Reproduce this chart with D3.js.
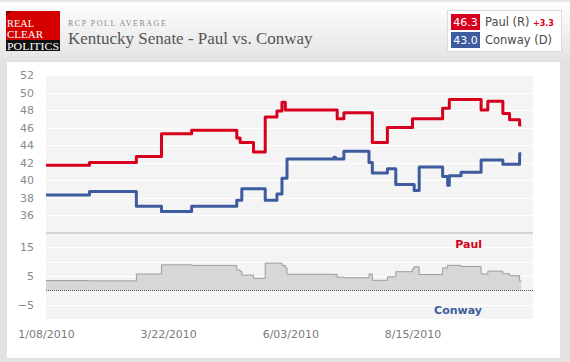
<!DOCTYPE html>
<html>
<head>
<meta charset="utf-8">
<script src="https://cdn.jsdelivr.net/npm/d3@7"></script>
<style>
  body { margin: 0; background: #e2e2e2; }
  svg { display: block; }
</style>
</head>
<body>
<script>
// Dates where either average changes (last one is the end of the series)
let dates = ["2010-01-08","2010-02-03","2010-03-03","2010-03-18","2010-04-05","2010-05-02",
  "2010-05-04","2010-05-05","2010-05-12","2010-05-19","2010-05-26","2010-05-29","2010-05-31",
  "2010-06-01","2010-06-29","2010-06-30","2010-07-01","2010-07-05","2010-07-20","2010-07-22",
  "2010-07-31","2010-08-05","2010-08-15","2010-08-16","2010-08-19","2010-09-02","2010-09-05",
  "2010-09-06","2010-09-13","2010-09-25","2010-09-29","2010-10-08","2010-10-12","2010-10-18",
  "2010-10-19"];

let paul = [41.7,42.0,42.7,45.3,45.7,44.8,44.3,44.3,43.2,47.2,47.9,48.9,48.0,
  48.0,48.0,48.0,47.0,47.7,47.7,44.3,46.0,46.0,47.0,47.0,47.0,48.2,48.2,
  49.2,49.2,48.0,49.0,47.6,46.9,46.3,46.3];

let conway = [38.3,38.7,37.0,36.4,37.0,37.7,37.7,39.0,39.0,37.7,38.4,40.2,40.2,
  42.4,42.6,42.4,42.4,43.3,42.0,40.8,41.3,39.5,39.5,38.8,41.5,40.4,39.4,
  40.5,40.9,42.3,42.3,41.8,41.8,43.0,43.0];

let topTicks = [52,50,48,46,44,42,40,38,36];
let spreadTicks = [15,5,-5];
let spreadGrid = [15,10,5,-5];
let dateTicks = ["2010-01-08","2010-03-22","2010-06-03","2010-08-15"];

let parse = d3.timeParse("%Y-%m-%d");
let rows = dates.map((d, i) => ({ date: parse(d), paul: paul[i], conway: conway[i], spread: paul[i] - conway[i] }));

let width = 570, height = 362;
let red = "#d6001c", blue = "#3d5c9e";

let svg = d3.select("body").append("svg")
  .attr("width", width)
  .attr("height", height);

// header gradient
let defs = svg.append("defs");
let grad = defs.append("linearGradient").attr("id", "hdr").attr("x1", 0).attr("y1", 0).attr("x2", 0).attr("y2", 1);
grad.append("stop").attr("offset", "0%").attr("stop-color", "#ffffff");
grad.append("stop").attr("offset", "100%").attr("stop-color", "#e4e4e4");

svg.append("rect").attr("width", width).attr("height", 60).attr("fill", "url(#hdr)");
svg.append("line").attr("x1", 0).attr("x2", width).attr("y1", 1).attr("y2", 1).attr("stroke", "#cfcfcf");
svg.append("rect").attr("x", 0).attr("y", 60).attr("width", width).attr("height", height - 60).attr("fill", "#e2e2e2");
svg.append("rect").attr("x", 7).attr("y", 62).attr("width", 553).attr("height", 296).attr("fill", "#fff");

// logo
let logo = svg.append("g").style("font-family", "'Liberation Serif', serif").style("font-size", "9.5px").attr("fill", "#fff");
logo.append("rect").attr("x", 6).attr("y", 11).attr("width", 54).attr("height", 29).attr("fill", "#d40000");
logo.append("path").attr("d", "M6,11 L12,11 L6,16 Z").attr("fill", "#8a0000");
logo.append("rect").attr("x", 6).attr("y", 40).attr("width", 54).attr("height", 11).attr("fill", "#111");
logo.append("text").attr("x", 7).attr("y", 27).attr("textLength", 27).attr("lengthAdjust", "spacingAndGlyphs").text("REAL");
logo.append("text").attr("x", 7).attr("y", 37.6).attr("textLength", 36).attr("lengthAdjust", "spacingAndGlyphs").text("CLEAR");
logo.append("text").attr("x", 7).attr("y", 49.5).attr("textLength", 52).attr("lengthAdjust", "spacingAndGlyphs").text("POLITICS");

svg.append("text")
  .attr("x", 68).attr("y", 25.5)
  .style("font-family", "'Liberation Serif', serif")
  .style("font-size", "8px")
  .style("letter-spacing", "1.5px")
  .attr("fill", "#8a8a8a")
  .text("RCP POLL AVERAGE");

svg.append("text")
  .attr("x", 68).attr("y", 43.5)
  .style("font-family", "'Liberation Serif', serif")
  .style("font-size", "17px")
  .attr("fill", "#555")
  .text("Kentucky Senate - Paul vs. Conway");

// legend
let last = rows[rows.length - 1];
let legend = svg.append("g").style("font-family", "'DejaVu Sans', Verdana, sans-serif");
legend.append("rect").attr("x", 447.5).attr("y", 10.5).attr("width", 114).attr("height", 41)
  .attr("fill", "#fff").attr("stroke", "#dcdcdc");
[[last.paul, "Paul (R)", red, 14], [last.conway, "Conway (D)", blue, 32]].forEach(([v, name, col, y0]) => {
  legend.append("rect").attr("x", 451).attr("y", y0).attr("width", 29).attr("height", 16).attr("fill", col);
  legend.append("text").attr("x", 465.5).attr("y", y0 + 12).attr("text-anchor", "middle")
    .style("font-size", "11px").attr("fill", "#fff").text(v.toFixed(1));
  legend.append("text").attr("x", 485).attr("y", y0 + 12)
    .style("font-size", "11.5px").attr("fill", "#4a4a4a").text(name);
});
legend.append("text").attr("x", 533).attr("y", 26)
  .style("font-size", "8px").style("font-weight", "bold").attr("fill", red)
  .text("+" + (last.paul - last.conway).toFixed(1));

// scales
let x = d3.scaleTime([parse("2010-01-08"), parse("2010-10-26")], [46, 533]);
let y = d3.scaleLinear([34, 52], [232.5, 75]);
let y2 = d3.scaleLinear([-10, 20], [319, 233]);

// plot backgrounds
svg.append("rect").attr("x", 46).attr("y", 76).attr("width", 487).attr("height", 157).attr("fill", "#f4f4f4");
svg.append("rect").attr("x", 46).attr("y", 233).attr("width", 487).attr("height", 86).attr("fill", "#f4f4f4");

svg.append("g").selectAll("line").data(topTicks.slice(1)).join("line")
  .attr("x1", 46).attr("x2", 533)
  .attr("y1", d => Math.round(y(d)) + 0.5).attr("y2", d => Math.round(y(d)) + 0.5)
  .attr("stroke", "#fff");

svg.append("g").selectAll("line").data(spreadGrid).join("line")
  .attr("x1", 46).attr("x2", 533)
  .attr("y1", d => Math.round(y2(d)) + 0.5).attr("y2", d => Math.round(y2(d)) + 0.5)
  .attr("stroke", "#fff");

// separator between panels
svg.append("line").attr("x1", 46).attr("x2", 533).attr("y1", 233).attr("y2", 233)
  .attr("stroke", "#d4d4d4").attr("stroke-width", 2);

// spread area
let area = d3.area()
  .x(d => x(d.date))
  .y0(y2(0))
  .y1(d => y2(d.spread))
  .curve(d3.curveStepAfter);

svg.append("path").datum(rows).attr("d", area).attr("fill", "#d7d7d7");
svg.append("path").datum(rows)
  .attr("d", d3.line().x(d => x(d.date)).y(d => y2(d.spread)).curve(d3.curveStepAfter))
  .attr("fill", "none").attr("stroke", "#9c9c9c").attr("stroke-width", 1);

svg.append("line").attr("x1", 46).attr("x2", 533)
  .attr("y1", Math.round(y2(0)) + 0.5).attr("y2", Math.round(y2(0)) + 0.5)
  .attr("stroke", "#555").attr("stroke-dasharray", "1,1");

// poll lines
["conway", "paul"].forEach(key => {
  let line = d3.line()
    .x(d => x(d.date))
    .y(d => y(d[key]))
    .curve(d3.curveStepAfter);
  svg.append("path").datum(rows)
    .attr("d", line)
    .attr("fill", "none")
    .attr("stroke", key == "paul" ? red : blue)
    .attr("stroke-width", 3)
    .attr("stroke-linejoin", "round");
});

// labels in the spread panel
let lab = svg.append("g").style("font-family", "'DejaVu Sans', Verdana, sans-serif")
  .style("font-size", "11px").style("font-weight", "bold").attr("text-anchor", "end");
lab.append("text").attr("x", 482).attr("y", 247.5).attr("fill", red).text("Paul");
lab.append("text").attr("x", 482).attr("y", 313.5).attr("fill", blue).text("Conway");

// axes
function styleAxis(g) {
  g.select(".domain").remove();
  g.selectAll(".tick line").remove();
  g.selectAll("text")
    .style("font-family", "'DejaVu Sans', Verdana, sans-serif")
    .style("font-size", "11px")
    .attr("fill", "#8a8a8a");
}

svg.append("g").attr("transform", "translate(34,0)")
  .call(d3.axisLeft(y).tickValues(topTicks).tickSize(0).tickPadding(0))
  .call(styleAxis);

svg.append("g").attr("transform", "translate(34,0)")
  .call(d3.axisLeft(y2).tickValues(spreadTicks).tickSize(0).tickPadding(0))
  .call(styleAxis);

svg.append("g").attr("transform", "translate(0,330)")
  .call(d3.axisBottom(x).tickValues(dateTicks.map(parse)).tickFormat(d3.timeFormat("%-m/%d/%Y")).tickSize(0).tickPadding(0))
  .call(styleAxis)
  .selectAll("text").attr("fill", "#7a7a7a");
</script>
</body>
</html>
